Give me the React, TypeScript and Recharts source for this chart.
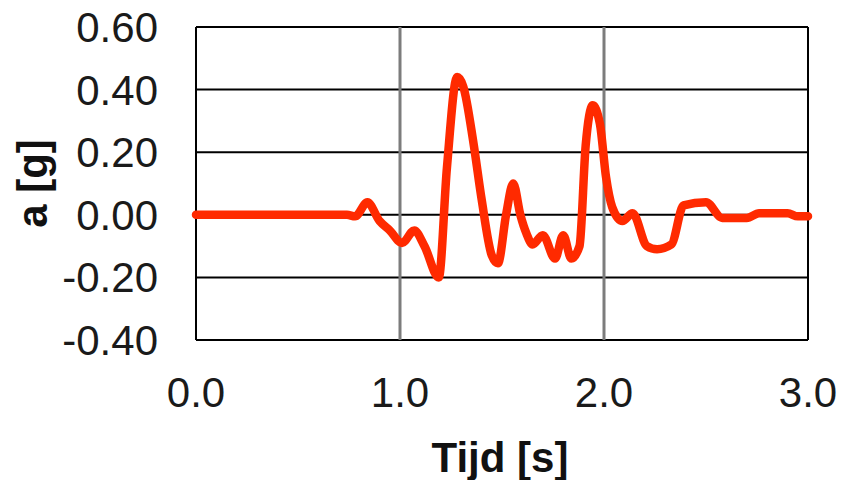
import { LineChart, Line, XAxis, YAxis, CartesianGrid, ReferenceLine, Label } from 'recharts';

const times = [0, 0.74, 0.78, 0.84, 0.9, 0.95, 1.01, 1.07, 1.12, 1.19, 1.23, 1.28, 1.31, 1.36, 1.4, 1.45, 1.48, 1.52, 1.555, 1.59, 1.62, 1.65, 1.7, 1.76, 1.8, 1.84, 1.88, 1.91, 1.945, 1.98, 2.01, 2.04, 2.09, 2.14, 2.21, 2.26, 2.33, 2.39, 2.5, 2.58, 2.7, 2.76, 2.9, 2.95, 3.0];
const accel = [0, 0, -0.005, 0.04, -0.02, -0.05, -0.09, -0.05, -0.1, -0.2, 0.15, 0.44, 0.41, 0.23, 0.05, -0.13, -0.155, 0.0, 0.1, 0.0, -0.06, -0.095, -0.065, -0.14, -0.065, -0.14, -0.1, 0.22, 0.35, 0.29, 0.12, 0.025, -0.02, 0.005, -0.1, -0.11, -0.095, 0.03, 0.04, -0.01, -0.01, 0.005, 0.005, -0.005, -0.005];

const xTicks = [0, 1, 2, 3];
const yTicks = [-0.4, -0.2, 0, 0.2, 0.4, 0.6];

const data = times.map((t, i) => ({ t, a: accel[i] }));

const font = '"Liberation Sans", Arial, sans-serif';
const tickStyle = { fontSize: 42, fill: '#1a1a1a', fontFamily: font };

export default function App() {
  return (
    <div style={{ width: 843, height: 480, background: '#fff' }}>
      <style>{'body{margin:0}'}</style>
      <LineChart width={843} height={480} data={data} margin={{ top: 27, right: 35, left: 0, bottom: 0 }}>
        <CartesianGrid vertical={false} stroke="#000" strokeWidth={2} />
        <ReferenceLine x={1} stroke="#7c7c7c" strokeWidth={3} />
        <ReferenceLine x={2} stroke="#7c7c7c" strokeWidth={3} />
        <ReferenceLine x={0} stroke="#000" strokeWidth={2} />
        <ReferenceLine x={3} stroke="#000" strokeWidth={2} />
        <XAxis
          dataKey="t"
          type="number"
          domain={[0, 3]}
          ticks={xTicks}
          tickFormatter={(v: number) => v.toFixed(1)}
          tick={tickStyle}
          axisLine={false}
          tickLine={false}
          tickSize={0}
          tickMargin={37}
          height={140}
          interval={0}
        >
          <Label
            content={(props: any) => {
              const vb = props.viewBox;
              return (
                <text x={vb.x + vb.width / 2 - 2} y={vb.y + 132} textAnchor="middle" fontSize={42} fontWeight="bold" fontFamily={font} fill="#111">
                  Tijd [s]
                </text>
              );
            }}
          />
        </XAxis>
        <YAxis
          type="number"
          domain={[-0.4, 0.6]}
          ticks={yTicks}
          tickFormatter={(v: number) => v.toFixed(2)}
          tick={tickStyle}
          axisLine={false}
          tickLine={false}
          tickSize={0}
          tickMargin={38}
          width={196}
          interval={0}
        >
          <Label
            content={(props: any) => {
              const vb = props.viewBox;
              const cy = vb.y + vb.height / 2;
              return (
                <text x={32} y={cy} transform={`rotate(-90, 32, ${cy})`} textAnchor="middle" dominantBaseline="central" fontSize={42} fontWeight="bold" fontFamily={font} fill="#111">
                  a [g]
                </text>
              );
            }}
          />
        </YAxis>
        <Line
          type="monotone"
          dataKey="a"
          stroke="#ff2a00"
          strokeWidth={8.5}
          dot={false}
          isAnimationActive={false}
          strokeLinejoin="round"
          strokeLinecap="round"
        />
      </LineChart>
    </div>
  );
}
